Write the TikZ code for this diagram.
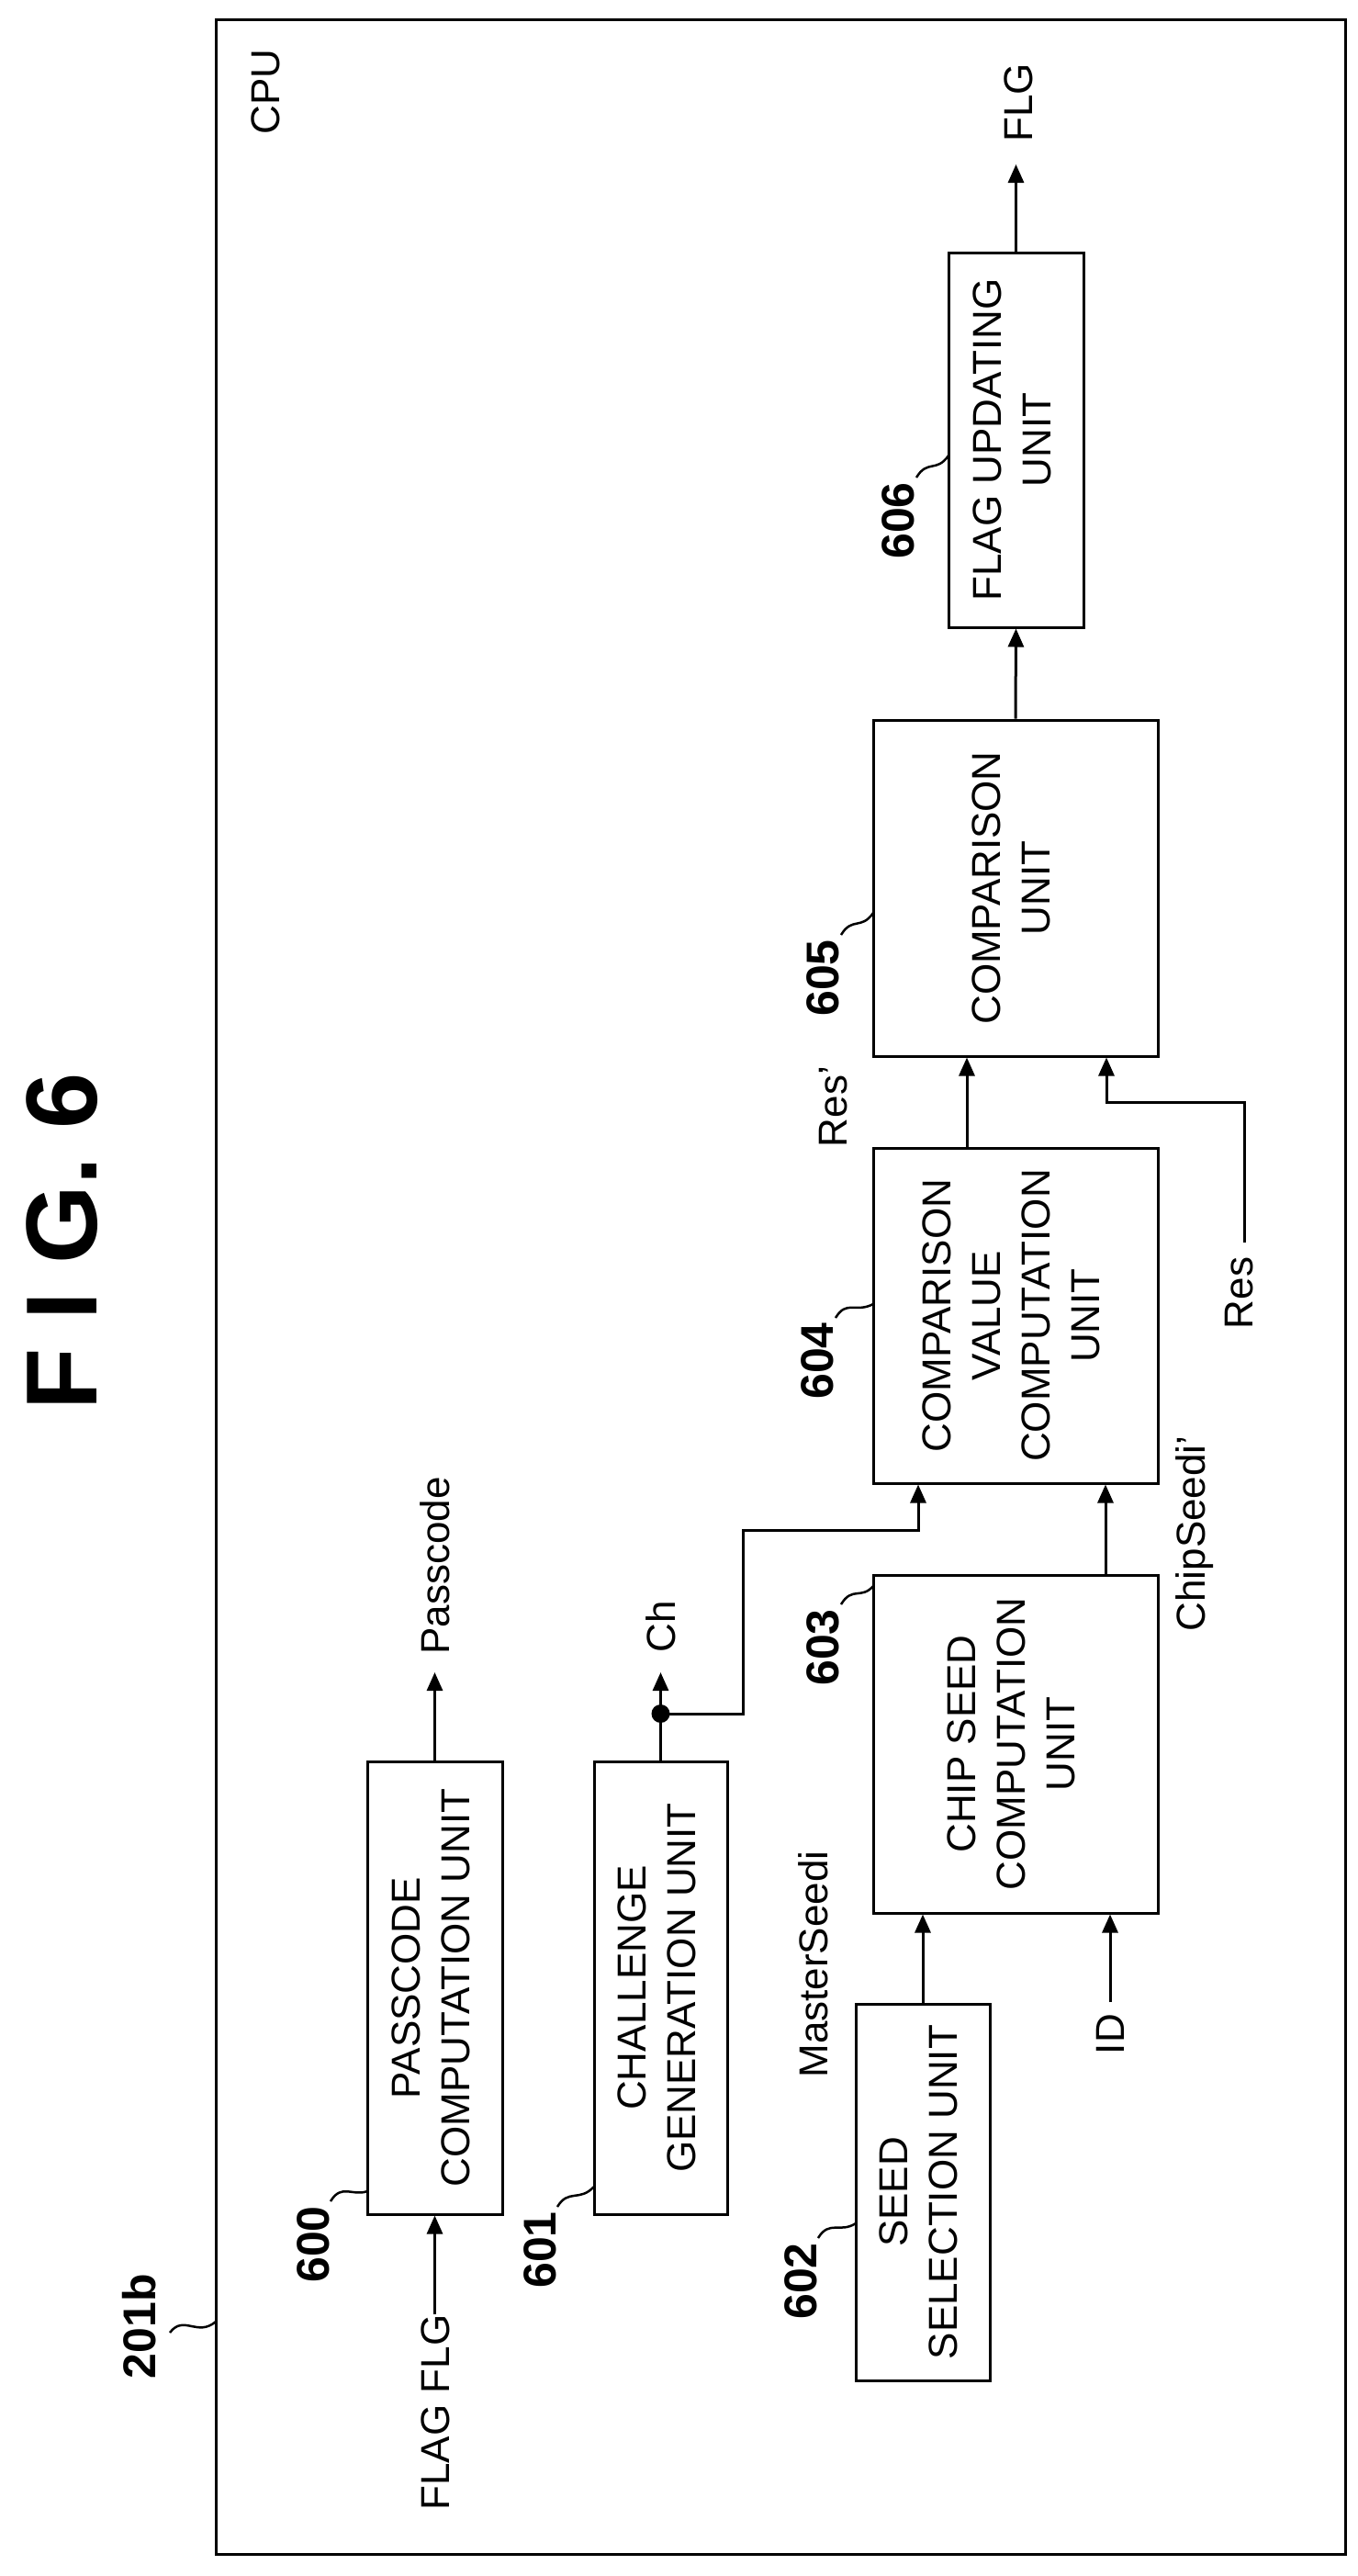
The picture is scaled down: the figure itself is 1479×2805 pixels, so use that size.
\documentclass[tikz,border=0pt]{standalone}
\usepackage{fontspec}
\setmainfont{Liberation Sans}
\usetikzlibrary{arrows.meta,calc}
\newcommand{\vt}[1]{\rotatebox{90}{\begin{tabular}{@{}c@{}}#1\end{tabular}}}
\begin{document}
\begin{tikzpicture}[x=1pt,y=1pt,
  ln/.style={line width=3pt},
  arr/.style={ln,-{Triangle[length=20pt,width=17pt]}},
  box/.style={draw,line width=3pt,rectangle,inner sep=0pt,align=center,font=\fontsize{44}{54}\selectfont},
  txt/.style={inner sep=0pt,font=\fontsize{44}{54}\selectfont},
  num/.style={inner sep=0pt,font=\fontsize{50}{56}\selectfont\bfseries},
  lead/.style={line width=2.5pt}]
\useasboundingbox (0,0) rectangle (1479,-2805);
\draw[line width=3pt] (235,-22) rectangle (1465,-2781);
\node[inner sep=0pt,font=\fontsize{110}{120}\selectfont\bfseries] (fig) at (68,-1352) {\rotatebox{90}{F I G. 6}};
\node[txt] (cpu) at (289,-100) {\rotatebox{90}{CPU}};
\node[num] (l201) at (152,-2533) {\rotatebox{90}{201b}};
\draw[lead] (185,-2540) .. controls (200,-2520) and (215,-2545) .. (235,-2528);
% boxes
\node[box,minimum height=408pt,minimum width=147pt] (b606) at (1106.5,-479) {\vt{FLAG UPDATING\\UNIT}};
\node[box,minimum height=366pt,minimum width=310pt] (b605) at (1106,-967) {\vt{COMPARISON\\UNIT}};
\node[box,minimum height=365pt,minimum width=310pt] (b604) at (1106,-1432.5) {\vt{COMPARISON\\VALUE\\COMPUTATION\\UNIT}};
\node[box,minimum height=368pt,minimum width=310pt] (b603) at (1106,-1899) {\vt{CHIP SEED\\COMPUTATION\\UNIT}};
\node[box,minimum height=410pt,minimum width=146pt] (b602) at (1005,-2387) {\vt{SEED\\SELECTION UNIT}};
\node[box,minimum height=493pt,minimum width=147pt] (b600) at (473.5,-2164.5) {\vt{PASSCODE\\COMPUTATION UNIT}};
\node[box,minimum height=493pt,minimum width=145pt] (b601) at (719.5,-2164.5) {\vt{CHALLENGE\\GENERATION UNIT}};
% reference numerals
\node[num] (l606) at (978,-567) {\rotatebox{90}{606}};
\draw[lead] (998,-520) .. controls (1010,-500) and (1020,-515) .. (1033,-496);
\node[num] (l605) at (896,-1065) {\rotatebox{90}{605}};
\draw[lead] (916,-1018) .. controls (928,-998) and (938,-1013) .. (951,-994);
\node[num] (l604) at (890,-1482) {\rotatebox{90}{604}};
\draw[lead] (910,-1435) .. controls (922,-1415) and (932,-1430) .. (951,-1420);
\node[num] (l603) at (896,-1794) {\rotatebox{90}{603}};
\draw[lead] (916,-1747) .. controls (928,-1727) and (938,-1742) .. (951,-1727);
\node[num] (l602) at (872,-2484) {\rotatebox{90}{602}};
\draw[lead] (891,-2437) .. controls (903,-2417) and (915,-2432) .. (932,-2421);
\node[num] (l600) at (341,-2444) {\rotatebox{90}{600}};
\draw[lead] (360,-2397) .. controls (372,-2377) and (384,-2392) .. (400,-2386);
\node[num] (l601) at (588,-2450) {\rotatebox{90}{601}};
\draw[lead] (607,-2403) .. controls (619,-2383) and (631,-2398) .. (647,-2381);
% signal labels
\node[txt] (flg) at (1109,-112) {\rotatebox{90}{FLG}};
\node[txt] (resp) at (908,-1205) {\rotatebox{90}{Res’}};
\node[txt] (res) at (1350,-1408) {\rotatebox{90}{Res}};
\node[txt] (chip) at (1301,-1670) {\rotatebox{90}{ChipSeedi’}};
\node[txt] (ms) at (886,-2139) {\rotatebox{90}{MasterSeedi}};
\node[txt] (id) at (1209,-2215) {\rotatebox{90}{ID}};
\node[txt] (pass) at (474,-1705) {\rotatebox{90}{Passcode}};
\node[txt] (ch) at (720,-1771) {\rotatebox{90}{Ch}};
\node[txt] (fflg) at (474,-2627) {\rotatebox{90}{FLAG FLG}};
\coordinate (flgtip) at (1106.5,-179);
\coordinate (passtip) at (473.5,-1821);
\coordinate (chtip) at (719.5,-1821);
\coordinate (chdot) at (719.5,-1866);
\coordinate (resend) at (1355,-1353);
\coordinate (idend) at (1209,-2180);
\coordinate (fflgend) at (473.5,-2520);
% connectors
\draw[arr] (b606.north) -- (flgtip);
\draw[arr] (b605.north) -- (b606.south);
\draw[arr] ([xshift=-53pt]b604.north) -- ([xshift=-53pt]b605.south);
\draw[arr] (resend) -- (1355,-1200) -- (1205,-1200) -- ([xshift=99pt]b605.south);
\draw[arr] ([xshift=98pt]b603.north) -- ([xshift=98pt]b604.south);
\draw[arr] (b601.north) -- (chtip);
\fill (chdot) circle (10pt);
\draw[arr] (chdot) -- (809,-1866) -- (809,-1666) -- (1000,-1666) -- ([xshift=-106pt]b604.south);
\draw[arr] (b600.north) -- (passtip);
\draw[arr] (fflgend) -- (b600.south);
\draw[arr] (b602.north) -- (b602.north |- b603.south);
\draw[arr] (idend) -- (idend |- b603.south);
\end{tikzpicture}
\end{document}
